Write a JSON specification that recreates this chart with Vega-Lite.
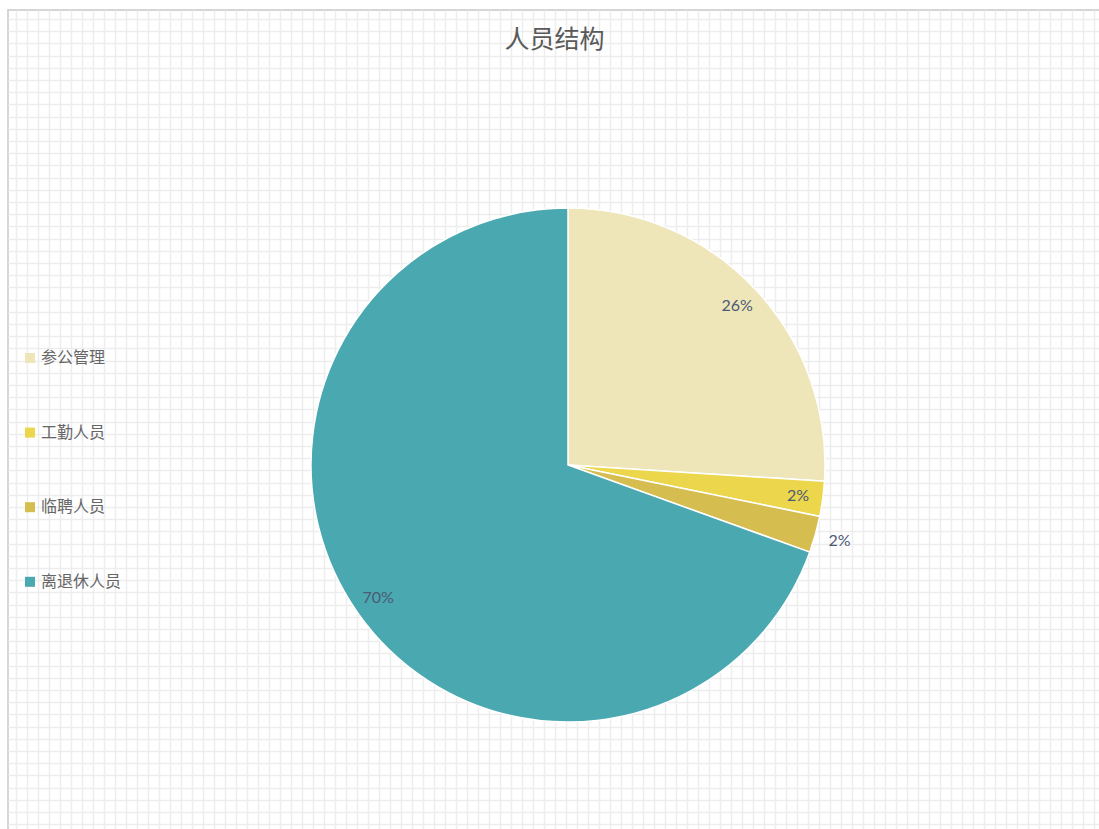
{
  "$schema": "https://vega.github.io/schema/vega-lite/v6.json",
  "width": 1093,
  "height": 821,
  "padding": {"left": 8, "top": 10, "right": 0, "bottom": 0},
  "background": "#ffffff",
  "title": {
    "text": "人员结构",
    "anchor": "middle",
    "frame": "group",
    "offset": -68,
    "font": "Noto Sans CJK SC",
    "fontSize": 25,
    "fontWeight": "normal",
    "color": "#595959",
    "baseline": "bottom"
  },
  "config": {
    "view": {"stroke": "#d6d6d6", "strokeWidth": 2},
    "axis": {
      "labels": false,
      "ticks": false,
      "domain": false,
      "title": null,
      "grid": true,
      "gridColor": "#ededed",
      "gridWidth": 1.5
    }
  },
  "data": {
    "values": [
      {"idx": 1, "name": "参公管理", "value": 26.0, "label": "26%"},
      {"idx": 2, "name": "工勤人员", "value": 2.2, "label": "2%"},
      {"idx": 3, "name": "临聘人员", "value": 2.3, "label": "2%"},
      {"idx": 4, "name": "离退休人员", "value": 69.5, "label": "70%"}
    ]
  },
  "encoding": {
    "x": {
      "datum": 50.18,
      "type": "quantitative",
      "scale": {"domain": [-0.727, 98.636], "nice": false, "zero": false},
      "axis": {"tickCount": 100}
    },
    "y": {
      "datum": 36.56,
      "type": "quantitative",
      "scale": {"domain": [-0.74, 66.554], "nice": false, "zero": false, "reverse": true},
      "axis": {"tickCount": 67}
    },
    "theta": {"field": "value", "type": "quantitative", "stack": true},
    "order": {"field": "idx", "type": "quantitative"}
  },
  "layer": [
    {
      "mark": {"type": "arc", "outerRadius": 257, "stroke": "#ffffff", "strokeWidth": 1.5},
      "encoding": {
        "color": {
          "field": "name",
          "type": "nominal",
          "scale": {
            "domain": ["参公管理", "工勤人员", "临聘人员", "离退休人员"],
            "range": ["#eee6b9", "#ecd64b", "#d5bd4f", "#4aa8b0"]
          },
          "legend": {
            "title": null,
            "orient": "none",
            "legendX": 14,
            "legendY": 340,
            "padding": 0,
            "symbolType": "square",
            "symbolSize": 100,
            "symbolStrokeWidth": 0,
            "labelFont": "Noto Sans CJK SC",
            "labelFontSize": 16,
            "labelColor": "#666666",
            "labelOffset": 3,
            "rowPadding": 58.6
          }
        }
      }
    },
    {
      "mark": {"type": "text", "radius": 232, "font": "Lato", "fontSize": 16, "color": "#4b5a74"},
      "encoding": {
        "text": {"condition": {"test": "datum.name !== '临聘人员'", "field": "label"}, "value": ""}
      }
    },
    {
      "mark": {"type": "text", "radius": 282, "font": "Lato", "fontSize": 16, "color": "#4b5a74"},
      "encoding": {
        "text": {"condition": {"test": "datum.name === '临聘人员'", "field": "label"}, "value": ""}
      }
    }
  ]
}
